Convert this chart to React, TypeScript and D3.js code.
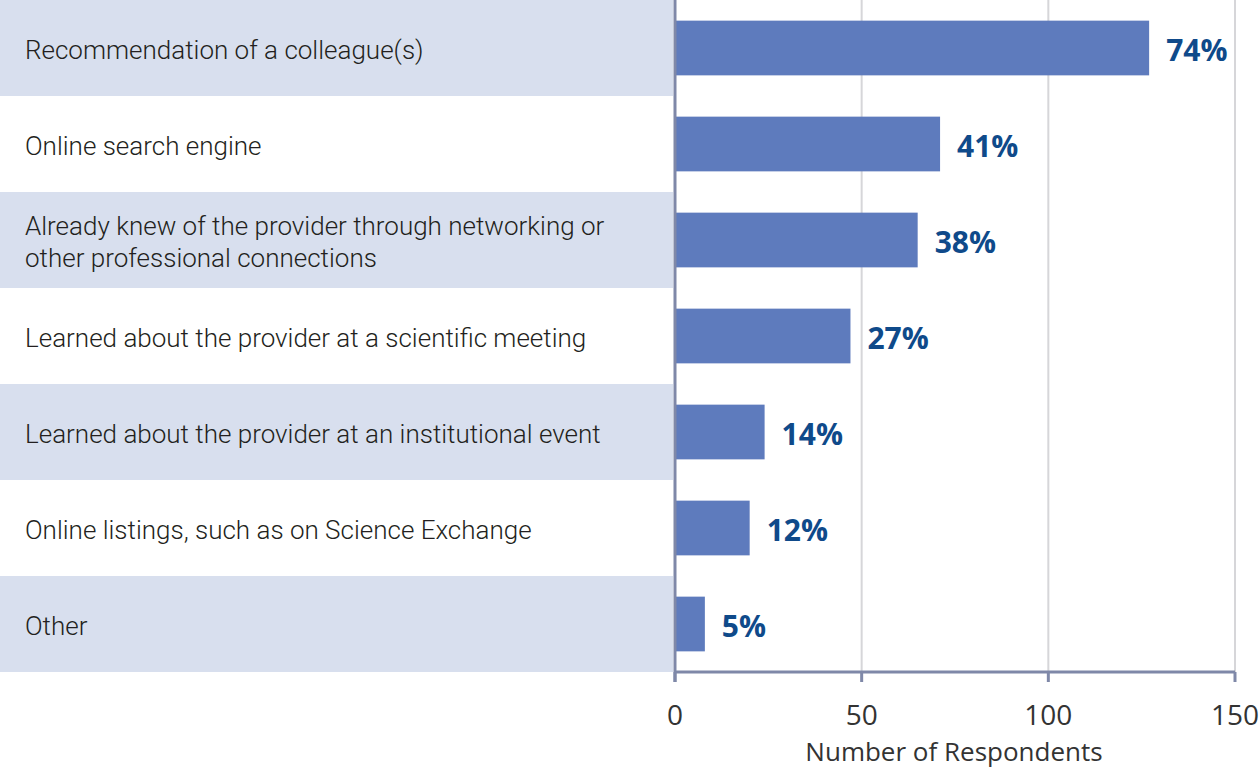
import React from 'react';
import * as d3 from 'd3';

const categories = [
  'Recommendation of a colleague(s)',
  'Online search engine',
  'Already knew of the provider through networking or|other professional connections',
  'Learned about the provider at a scientific meeting',
  'Learned about the provider at an institutional event',
  'Online listings, such as on Science Exchange',
  'Other',
];
const respondents = [127, 71, 65, 47, 24, 20, 8];
const percentLabels = ['74%', '41%', '38%', '27%', '14%', '12%', '5%'];
const xTicks = [0, 50, 100, 150];

const W = 1260;
const H = 771;
const plotLeft = 675;
const plotRight = 1235;
const plotTop = 0;
const plotBottom = 672;

export default function App() {
  const x = d3.scaleLinear().domain([0, 150]).range([plotLeft, plotRight]);
  const rows = d3.scaleBand<number>().domain(d3.range(categories.length)).range([plotTop, plotBottom]);
  const bars = d3
    .scaleBand<number>()
    .domain(d3.range(categories.length))
    .range([plotTop, plotBottom])
    .paddingInner(0.43)
    .paddingOuter(0.215);

  return (
    <svg
      width={W}
      height={H}
      style={{ position: 'absolute', left: 0, top: 0, background: '#fff' }}
    >
      {/* alternating row bands */}
      {categories.map((c, i) =>
        i % 2 === 0 ? (
          <rect key={'band' + i} x={0} y={rows(i)} width={673} height={rows.bandwidth()} fill="#d8dfee" />
        ) : null
      )}

      {/* grid */}
      {xTicks.slice(1).map((t) => (
        <line key={'g' + t} x1={x(t)} x2={x(t)} y1={plotTop} y2={plotBottom} stroke="#d6d6d9" strokeWidth={2} />
      ))}

      {/* category labels */}
      {categories.map((c, i) => {
        const lines = c.split('|');
        const cy = (rows(i) as number) + rows.bandwidth() / 2 + 2;
        const lh = 32;
        return (
          <text
            key={'lab' + i}
            x={25}
            fontFamily="Roboto, 'Liberation Sans', sans-serif"
            fontWeight={300}
            fontSize={26}
            fill="#231f20"
          >
            {lines.map((l, j) => (
              <tspan key={j} x={25} y={cy + (j - (lines.length - 1) / 2) * lh} dy="0.35em">
                {l}
              </tspan>
            ))}
          </text>
        );
      })}

      {/* bars */}
      {respondents.map((v, i) => (
        <rect
          key={'bar' + i}
          x={x(0)}
          y={bars(i)}
          width={x(v) - x(0)}
          height={bars.bandwidth()}
          fill="#5e7bbd"
        />
      ))}

      {/* value labels */}
      {respondents.map((v, i) => (
        <text
          key={'val' + i}
          x={x(v) + 17}
          y={(bars(i) as number) + bars.bandwidth() / 2 + 2}
          dy="0.36em"
          fontFamily="'Open Sans', sans-serif"
          fontWeight={700}
          fontSize={30}
          fill="#0f4a8a"
        >
          {percentLabels[i]}
        </text>
      ))}

      {/* axes */}
      <line x1={plotLeft} x2={plotLeft} y1={0} y2={682} stroke="#7f88a8" strokeWidth={3} />
      <line x1={plotLeft} x2={plotRight} y1={plotBottom} y2={plotBottom} stroke="#7f88a8" strokeWidth={3} />
      {xTicks.map((t) => (
        <g key={'t' + t}>
          <line x1={x(t)} x2={x(t)} y1={plotBottom} y2={682} stroke="#7f88a8" strokeWidth={3} />
          <text
            x={x(t)}
            y={725}
            textAnchor="middle"
            fontFamily="'Open Sans', sans-serif"
            fontSize={28}
            fill="#333"
          >
            {t}
          </text>
        </g>
      ))}
      <text
        x={954}
        y={761}
        textAnchor="middle"
        fontFamily="'Open Sans', sans-serif"
        fontSize={26}
        fill="#333"
      >
        Number of Respondents
      </text>
    </svg>
  );
}
